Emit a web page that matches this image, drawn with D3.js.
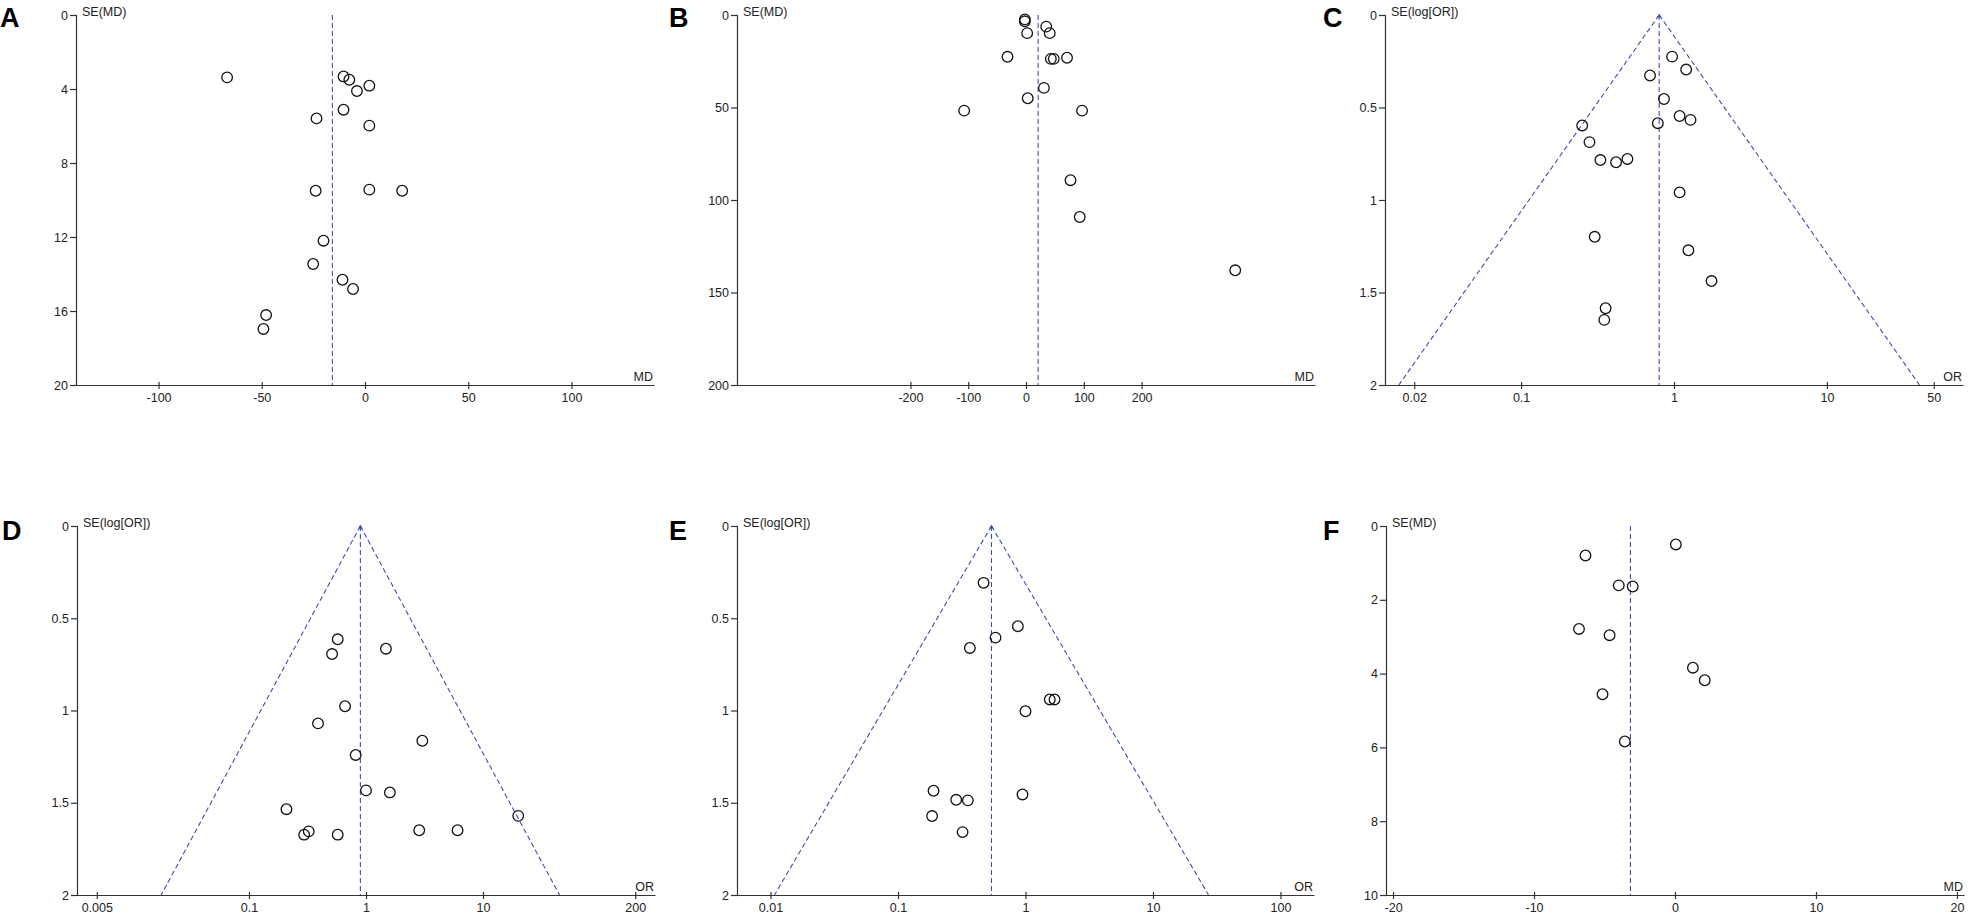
<!DOCTYPE html>
<html>
<head>
<meta charset="utf-8">
<script src="https://cdn.jsdelivr.net/npm/d3@7"></script>
<style>
  body { margin: 0; background: #fff; }
  svg text { font-family: "Liberation Sans", Arial, sans-serif; }
</style>
</head>
<body>
<div class="canvas"></div>
<script>
// ---- data ----
// A : mean difference vs SE(MD)
const mdA = [-66.8, -10.4, -7.6, 2.1, -3.9, -10.4, -23.5, 2.1, -23.9, 2.1, 18.0, -20.1, -25.1, -10.9, -5.8, -47.9, -49.2];
const seA = [3.37, 3.32, 3.50, 3.82, 4.11, 5.12, 5.59, 5.98, 9.50, 9.44, 9.50, 12.20, 13.46, 14.31, 14.81, 16.22, 16.97];
const pooledA = -15.8;
const xTicksA = [-100, -50, 0, 50, 100];
const yTicksA = [0, 4, 8, 12, 16, 20];

// B
const mdB = [-2, -2, 35, 2, 41, -32, 43, 48, 71, 31, 3, -107, 97, 77, 93, 362];
const seB = [2.35, 3.4, 6.3, 9.8, 9.8, 22.6, 23.7, 23.7, 23.1, 39.4, 45.0, 51.7, 51.7, 89.3, 109.2, 138];
const pooledB = 21;
const xTicksB = [-200, -100, 0, 100, 200];
const yTicksB = [0, 50, 100, 150, 200];

// C : odds ratio vs SE(log[OR])
const orC = [0.972, 1.201, 0.697, 0.860, 1.088, 1.282, 0.784, 0.251, 0.280, 0.330, 0.418, 0.496, 1.088, 0.303, 1.242, 1.759, 0.357, 0.350];
const seC = [0.225, 0.295, 0.327, 0.454, 0.546, 0.567, 0.585, 0.597, 0.687, 0.784, 0.796, 0.778, 0.959, 1.199, 1.272, 1.438, 1.585, 1.648];
const pooledC = 0.80;
const xTicksC = [0.02, 0.1, 1, 10, 50];
const yTicksOR = [0, 0.5, 1, 1.5, 2];

// D
const orD = [0.573, 0.513, 1.48, 0.662, 0.389, 3.03, 0.816, 1.0, 1.60, 0.209, 0.324, 0.296, 0.573, 2.85, 6.06, 20];
const seD = [0.614, 0.694, 0.665, 0.977, 1.070, 1.164, 1.241, 1.433, 1.444, 1.535, 1.655, 1.673, 1.673, 1.649, 1.649, 1.571];
const pooledD = 0.895;
const xTicksD = [0.005, 0.1, 1, 10, 200];

// E
const orE = [0.469, 0.871, 0.582, 0.366, 1.55, 1.69, 1.0, 0.190, 0.286, 0.353, 0.947, 0.185, 0.321];
const seE = [0.308, 0.543, 0.605, 0.661, 0.940, 0.940, 1.004, 1.435, 1.484, 1.487, 1.455, 1.572, 1.659];
const pooledE = 0.541;
const xTicksE = [0.01, 0.1, 1, 10, 100];

// F
const mdF = [0.06, -6.35, -3.99, -3.0, -6.81, -4.64, 1.27, 2.11, -5.14, -3.56];
const seF = [0.50, 0.80, 1.61, 1.64, 2.79, 2.96, 3.84, 4.18, 4.56, 5.84];
const pooledF = -3.16;
const xTicksF = [-20, -10, 0, 10, 20];
const yTicksF = [0, 2, 4, 6, 8, 10];

// ---- layout ----
const svg = d3.select('.canvas')
  .append('svg')
    .attr('width', 1972)
    .attr('height', 914);

const blue = '#3a4fb5';
const top1 = 15, bot1 = 385, top2 = 526, bot2 = 895;

const panels = [
  {letter: 'A', lx: 0, ly: 27, x0: 76, x1: 654, y0: top1, y1: bot1, log: false, dom: [-140, 140],
   xs: mdA, ys: seA, pooled: pooledA, xTicks: xTicksA, yTicks: yTicksA, yTitle: 'SE(MD)', xTitle: 'MD'},
  {letter: 'B', lx: 669, ly: 27, x0: 737, x1: 1315, y0: top1, y1: bot1, log: false, dom: [-500, 500],
   xs: mdB, ys: seB, pooled: pooledB, xTicks: xTicksB, yTicks: yTicksB, yTitle: 'SE(MD)', xTitle: 'MD'},
  {letter: 'C', lx: 1323, ly: 27, x0: 1385, x1: 1963, y0: top1, y1: bot1, log: true, dom: [Math.pow(10, -1.89), Math.pow(10, 1.89)],
   xs: orC, ys: seC, pooled: pooledC, xTicks: xTicksC, yTicks: yTicksOR, yTitle: 'SE(log[OR])', xTitle: 'OR'},
  {letter: 'D', lx: 2, ly: 540, x0: 77, x1: 655, y0: top2, y1: bot2, log: true, dom: [Math.pow(10, -2.47), Math.pow(10, 2.47)],
   xs: orD, ys: seD, pooled: pooledD, xTicks: xTicksD, yTicks: yTicksOR, yTitle: 'SE(log[OR])', xTitle: 'OR'},
  {letter: 'E', lx: 669, ly: 540, x0: 737, x1: 1314, y0: top2, y1: bot2, log: true, dom: [Math.pow(10, -2.263), Math.pow(10, 2.263)],
   xs: orE, ys: seE, pooled: pooledE, xTicks: xTicksE, yTicks: yTicksOR, yTitle: 'SE(log[OR])', xTitle: 'OR'},
  {letter: 'F', lx: 1323, ly: 540, x0: 1386, x1: 1964, y0: top2, y1: bot2, log: false, dom: [-20.5, 20.5],
   xs: mdF, ys: seF, pooled: pooledF, xTicks: xTicksF, yTicks: yTicksF, yTitle: 'SE(MD)', xTitle: 'MD'}
];

const drawPanel = (p) => {
  const g = svg.append('g');

  const x = (p.log ? d3.scaleLog() : d3.scaleLinear())
    .domain(p.dom)
    .range([p.x0, p.x1]);
  const yMax = p.yTicks[p.yTicks.length - 1];
  const y = d3.scaleLinear()
    .domain([0, yMax])
    .range([p.y0, p.y1]);

  // axes
  const xAxis = d3.axisBottom(x)
    .tickValues(p.xTicks)
    .tickFormat(d => String(d))
    .tickSize(4)
    .tickSizeOuter(0)
    .tickPadding(4);
  const yAxis = d3.axisLeft(y)
    .tickValues(p.yTicks)
    .tickFormat(d => String(d))
    .tickSize(6)
    .tickSizeOuter(0)
    .tickPadding(2);

  const xg = g.append('g')
    .attr('transform', `translate(0, ${p.y1})`)
    .call(xAxis);
  xg.selectAll('.tick line').attr('y1', -3).attr('y2', 4);

  const yg = g.append('g')
    .attr('transform', `translate(${p.x0}, 0)`)
    .call(yAxis);
  yg.selectAll('.tick line').attr('x2', 1).attr('x1', -6);

  [xg, yg].forEach(a => {
    a.select('.domain').attr('stroke', '#333').attr('stroke-width', 1.2);
    a.selectAll('.tick line').attr('stroke', '#333').attr('stroke-width', 1.2);
    a.selectAll('text')
      .attr('fill', '#222')
      .style('font-size', '12.5px');
  });

  // titles
  g.append('text')
    .attr('x', p.x0 + 6)
    .attr('y', p.y0 + 1)
    .attr('fill', '#222')
    .style('font-size', '12.5px')
    .text(p.yTitle);
  g.append('text')
    .attr('x', p.x1 - 1)
    .attr('y', p.y1 - 4)
    .attr('text-anchor', 'end')
    .attr('fill', '#222')
    .style('font-size', '12.5px')
    .text(p.xTitle);
  g.append('text')
    .attr('x', p.lx)
    .attr('y', p.ly)
    .attr('fill', '#000')
    .style('font-size', '27px')
    .style('font-weight', 'bold')
    .text(p.letter);

  // pooled estimate line
  g.append('line')
    .attr('x1', x(p.pooled)).attr('x2', x(p.pooled))
    .attr('y1', y(0)).attr('y2', y(yMax))
    .attr('stroke', blue)
    .attr('stroke-width', 1.1)
    .attr('stroke-dasharray', '5,3');

  // pseudo 95% confidence limits
  if (p.log) {
    [-1, 1].forEach(s => {
      g.append('line')
        .attr('x1', x(p.pooled)).attr('y1', y(0))
        .attr('x2', x(p.pooled * Math.exp(s * 1.96 * yMax))).attr('y2', y(yMax))
        .attr('stroke', blue)
        .attr('stroke-width', 1.1)
        .attr('stroke-dasharray', '5,3');
    });
    // small marker at the apex
    const ax = x(p.pooled), ay = y(0);
    g.append('path')
      .attr('d', `M${ax},${ay - 1.5}L${ax - 2.2},${ay + 2.5}L${ax + 2.2},${ay + 2.5}Z`)
      .attr('fill', blue);
  }

  // studies
  const pts = p.xs.map((v, i) => ({v: v, se: p.ys[i]}));
  g.selectAll('circle')
    .data(pts)
    .enter()
    .append('circle')
      .attr('cx', d => x(d.v))
      .attr('cy', d => y(d.se))
      .attr('r', 5.3)
      .attr('fill', 'none')
      .attr('stroke', '#111')
      .attr('stroke-width', 1.3);
};

panels.forEach(drawPanel);
</script>
</body>
</html>
